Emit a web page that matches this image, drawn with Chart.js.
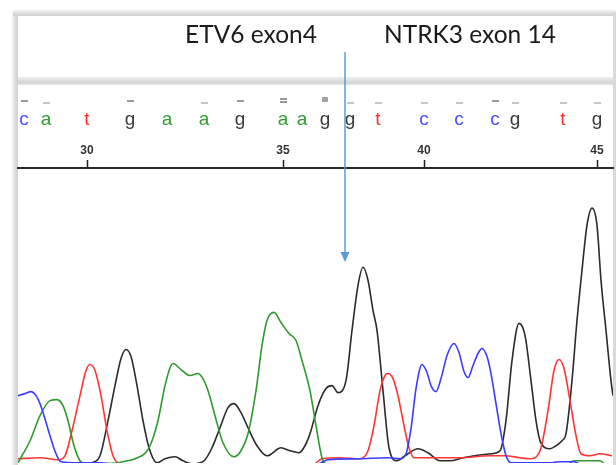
<!DOCTYPE html>
<html>
<head>
<meta charset="utf-8">
<script src="https://cdn.jsdelivr.net/npm/chart.js@4.4.1/dist/chart.umd.min.js"></script>
<style>
  body { margin: 0; background: #fff; }
  #wrap { width: 616px; height: 465px; position: relative; }
</style>
</head>
<body>
<div id="wrap"><canvas id="chart"></canvas></div>
<script>
// base calls (numbered 28..45) and their scan positions
const baseNums = [28, 29, 30, 31, 32, 33, 34, 35, 36, 37, 38, 39, 40, 41, 42, 43, 44, 45];
const baseSeq  = ['c','a','t','g','a','a','g','a','a','g','g','t','c','c','c','g','t','g'];
const basePos  = [6, 28, 69, 112, 149, 186, 222, 265, 284, 307, 332, 360, 406, 441, 477, 497, 545, 579];
// quality marks above each base (0 = none, 1 light, 2 dark, 3 double, 4 block)
const baseQual = [2, 1, 0, 2, 0, 1, 2, 3, 0, 4, 1, 1, 1, 1, 2, 1, 1, 1];
const tickLabels = ['30', '35', '40', '45'];
const junctionScan = 327;

// traces: [scan, intensity]
const blueTrace = [[0,68],[7,70],[13,72],[18,68],[22,60],[26,48],[32,28],[38,10],[43,2],[60,1],[84,1],[92,0],[300,0],
  [310,4],[340,5],[370,6],[382,5],[388,10],[393,35],[398,75],[404,99],[409,91],[413,78],[418,72],[423,85],[429,108],
  [436,120],[441,111],[446,92],[450,86],[455,98],[460,110],[464,115],[469,107],[473,90],[478,60],[483,30],[488,8],
  [493,1],[534,1],[540,2],[556,2],[562,0],[595,0]];
const greenTrace = [[0,1],[12,23],[22,48],[32,63],[39,64],[45,58],[50,43],[56,18],[62,3],[68,0],[100,1],[104,2],
  [117,5],[131,16],[140,43],[147,78],[155,100],[163,94],[172,88],[180,90],[186,83],[190,73],[197,48],[205,21],
  [216,7],[223,13],[230,30],[238,73],[244,118],[249,143],[256,151],[263,141],[271,130],[278,123],[284,103],
  [292,73],[298,38],[304,6],[308,0],[550,0],[556,3],[582,3],[587,0],[595,0]];
const redTrace = [[0,5],[22,6],[40,4],[47,8],[54,33],[62,68],[68,93],[72,99],[77,93],[83,68],[89,33],[95,8],
  [100,1],[106,0],[296,0],[304,5],[322,6],[342,5],[350,13],[356,38],[362,73],[367,88],[370,90],[375,85],[380,68],
  [386,38],[391,16],[396,6],[407,6],[442,6],[472,8],[487,8],[502,6],[512,5],[522,13],[530,53],[536,93],[541,104],
  [546,95],[552,63],[558,28],[563,10],[572,8],[582,10],[594,8]];
const blackTrace = [[0,0],[70,0],[74,1],[82,8],[90,43],[97,78],[103,105],[108,114],[113,107],[119,78],[125,43],
  [131,16],[139,1],[147,5],[157,7],[165,3],[174,0],[186,3],[194,16],[202,36],[210,56],[216,60],[223,51],[230,36],
  [239,18],[249,8],[263,16],[272,13],[281,11],[287,18],[292,30],[300,58],[308,75],[314,78],[320,71],[328,83],
  [334,133],[340,178],[345,196],[350,183],[355,153],[359,133],[365,73],[371,16],[379,3],[387,8],[400,15],[410,11],
  [422,3],[432,3],[445,6],[473,10],[482,13],[488,43],[494,103],[501,140],[507,128],[513,83],[518,43],[522,23],
  [527,16],[532,15],[538,18],[544,23],[548,30],[554,83],[559,143],[564,193],[569,238],[574,255],[579,238],
  [583,183],[588,133],[593,83],[595,68]];

const baseColor = { a: '#2f9e2f', c: '#4b4bff', g: '#3a3a3a', t: '#ff2a2a' };

function toXY(arr) { return arr.map(p => ({ x: p[0], y: p[1] })); }

// frame, header texts, base calls and the junction arrow
const sequencePanel = {
  id: 'sequencePanel',
  beforeDraw(chart) {
    const ctx = chart.ctx;
    ctx.save();
    ctx.fillStyle = '#fff';
    ctx.fillRect(0, 0, chart.width, chart.height);
    // shadowed frame
    let g = ctx.createLinearGradient(11, 0, 18, 0);
    g.addColorStop(0, '#fff'); g.addColorStop(0.5, '#e2e2e2'); g.addColorStop(1, '#cfcfcf');
    ctx.fillStyle = g; ctx.fillRect(11, 10, 7, chart.height);
    g = ctx.createLinearGradient(0, 9, 0, 16);
    g.addColorStop(0, '#fff'); g.addColorStop(0.5, '#e2e2e2'); g.addColorStop(1, '#cfcfcf');
    ctx.fillStyle = g; ctx.fillRect(13, 9, chart.width, 7);
    ctx.fillStyle = '#d9d9d9'; ctx.fillRect(613, 12, 3, chart.height);
    // separator between header and trace panel
    g = ctx.createLinearGradient(0, 77, 0, 86);
    g.addColorStop(0, '#f0f0f0'); g.addColorStop(0.6, '#d4d4d4'); g.addColorStop(1, '#ebebeb');
    ctx.fillStyle = g; ctx.fillRect(18, 77, 595, 8);
    ctx.restore();
  },
  afterDraw(chart) {
    const ctx = chart.ctx;
    const xs = chart.scales.x;
    ctx.save();
    // header
    ctx.fillStyle = '#1a1a1a';
    ctx.font = '24.5px Lato, "Open Sans", sans-serif';
    ctx.textAlign = 'center';
    ctx.textBaseline = 'alphabetic';
    ctx.fillText('ETV6 exon4', xs.getPixelForValue(233), 43);
    ctx.fillText('NTRK3 exon 14', xs.getPixelForValue(452), 43);
    // base letters and quality marks
    ctx.font = '19px "Liberation Sans", Arial, sans-serif';
    baseSeq.forEach((b, i) => {
      const px = xs.getPixelForValue(basePos[i]);
      ctx.fillStyle = baseColor[b];
      ctx.fillText(b, px, 125);
      const q = baseQual[i];
      if (q === 1) { ctx.fillStyle = '#c6c6c6'; ctx.fillRect(px - 3, 102, 7, 2); }
      if (q === 2) { ctx.fillStyle = '#9a9a9a'; ctx.fillRect(px - 3, 100, 7, 2); }
      if (q === 3) { ctx.fillStyle = '#9a9a9a'; ctx.fillRect(px - 3, 98, 7, 2); ctx.fillRect(px - 3, 101, 7, 2); }
      if (q === 4) { ctx.fillStyle = '#a2a2a2'; ctx.fillRect(px - 3, 97, 6, 5); }
    });
    // junction arrow
    const ax = xs.getPixelForValue(junctionScan);
    ctx.strokeStyle = '#5b9bd5';
    ctx.fillStyle = '#5b9bd5';
    ctx.lineWidth = 1.5;
    ctx.beginPath(); ctx.moveTo(ax, 52); ctx.lineTo(ax, 254); ctx.stroke();
    ctx.beginPath(); ctx.moveTo(ax - 4.5, 252); ctx.lineTo(ax + 4.5, 252); ctx.lineTo(ax, 262); ctx.closePath(); ctx.fill();
    ctx.restore();
  }
};

function traceSet(data, color) {
  return {
    data: toXY(data), borderColor: color, borderWidth: 1.6, pointRadius: 0,
    cubicInterpolationMode: 'monotone', fill: false, xAxisID: 'x', yAxisID: 'y'
  };
}

const ctx = document.getElementById('chart');
new Chart(ctx, {
  type: 'line',
  data: {
    datasets: [
      traceSet(blueTrace, '#3c3cff'),
      traceSet(greenTrace, '#2e9a2e'),
      traceSet(redTrace, '#ff3434'),
      traceSet(blackTrace, '#2b2b2b')
    ]
  },
  options: {
    responsive: true,
    maintainAspectRatio: false,
    animation: false,
    layout: { padding: { left: 18, right: 3, top: 144, bottom: 2 } },
    plugins: { legend: { display: false }, tooltip: { enabled: false } },
    scales: {
      x: { type: 'linear', min: 0, max: 595, display: false },
      xTop: {
        type: 'linear', position: 'top', min: 0, max: 595,
        afterBuildTicks: (scale) => {
          scale.ticks = baseNums.map((n, i) => ({ value: basePos[i], label: String(n) }))
            .filter(t => tickLabels.includes(t.label));
        },
        afterFit: (scale) => { scale.height = 24; },
        ticks: {
          autoSkip: false, maxRotation: 0, padding: 2,
          color: '#333', font: { size: 12, weight: 'bold', family: '"Liberation Sans", Arial' },
          callback: (v) => { const i = basePos.indexOf(v); return String(baseNums[i]); }
        },
        grid: { drawOnChartArea: false, tickLength: 8, tickColor: '#222', tickWidth: 1.5 },
        border: { display: true, color: '#2a2a2a', width: 2 }
      },
      y: { min: 0.8, max: 295, display: false }
    }
  },
  plugins: [sequencePanel]
});
</script>
</body>
</html>
